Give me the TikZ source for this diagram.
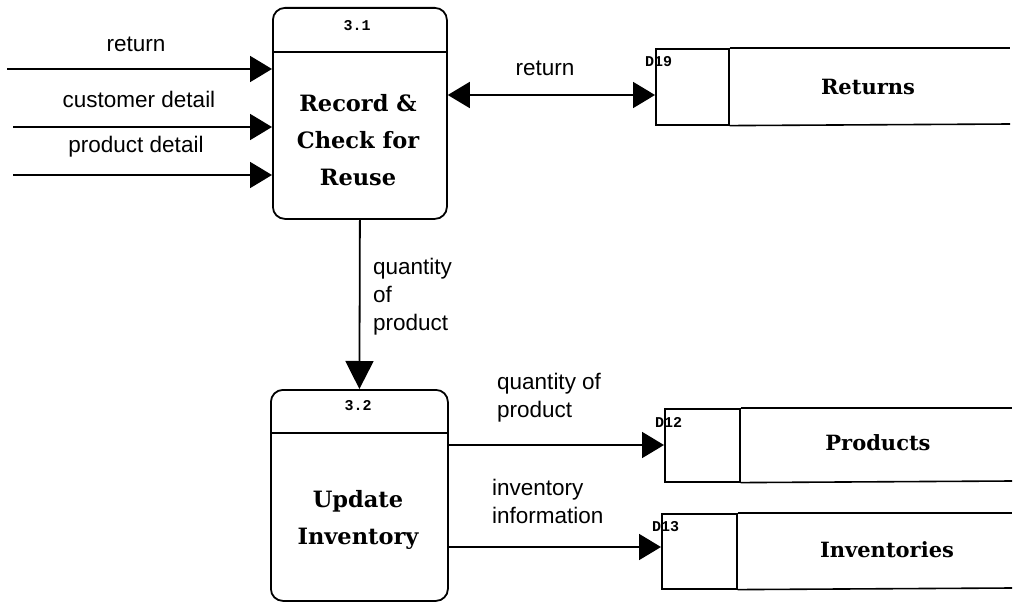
\documentclass[tikz,border=0pt]{standalone}
\usepackage{fontspec}
\usetikzlibrary{arrows.meta}
\newfontfamily\lblfont{Liberation Sans}
\newfontfamily\procfont{DejaVu Serif}
\newfontfamily\monofnt{Liberation Mono}
\tikzset{
  proc/.style={draw, line width=1.8pt, rounded corners=12pt, anchor=north west, inner sep=0pt},
  ptext/.style={align=center, font=\procfont\bfseries\fontsize{22.5}{37}\selectfont},
  pid/.style={font=\monofnt\bfseries\fontsize{15}{16}\selectfont},
  sid/.style={draw, line width=1.6pt, anchor=north west, inner sep=0pt},
  slabel/.style={font=\procfont\bfseries\fontsize{21}{26}\selectfont},
  lbl/.style={font=\lblfont\fontsize{22.5}{28}\selectfont, align=left, inner sep=0pt},
  flow/.style={line width=1.8pt, -{Triangle[length=22pt,width=26pt]}},
  flowboth/.style={line width=1.8pt, {Triangle[length=22pt,width=26pt]}-{Triangle[length=22pt,width=26pt]}},
  storeline/.style={line width=1.6pt}
}
\begin{document}
\begin{tikzpicture}[x=1pt,y=-1pt]
\useasboundingbox (0,0) rectangle (1023,602);
\fill[white] (0,0) rectangle (1023,602);

% process 3.1
\node[proc, minimum width=174pt, minimum height=211pt] (p1) at (272,7) {};
\draw[line width=1.6pt] ([yshift=-45pt]p1.north west) -- ([yshift=-45pt]p1.north east);
\node[pid] (p1id) at (357,26) {3.1};
\node[ptext] (p1t) at (358,140) {Record \&\\Check for\\Reuse};

% process 3.2
\node[proc, minimum width=177pt, minimum height=211pt] (p2) at (270,389) {};
\draw[line width=1.6pt] ([yshift=-44pt]p2.north west) -- ([yshift=-44pt]p2.north east);
\node[pid] (p2id) at (358,406) {3.2};
\node[ptext] (p2t) at (358,520) {Update\\Inventory};

% store D19 Returns
\node[sid, minimum width=73pt, minimum height=76pt] (s1) at (655,48) {};
\coordinate (s1te) at (1010,48);
\coordinate (s1be) at (1010,124);
\draw[storeline] (s1.north east) -- (s1te);
\draw[storeline] (s1.south east) -- (s1be);
\node[pid, anchor=west, inner sep=0pt] (s1id) at (645,62) {D19};
\node[slabel] (s1l) at (868,87) {Returns};

% store D12 Products
\node[sid, minimum width=75pt, minimum height=73pt] (s2) at (664,408) {};
\coordinate (s2te) at (1012,408);
\coordinate (s2be) at (1012,481);
\draw[storeline] (s2.north east) -- (s2te);
\draw[storeline] (s2.south east) -- (s2be);
\node[pid, anchor=west, inner sep=0pt] (s2id) at (655,422) {D12};
\node[slabel] (s2l) at (878,443) {Products};

% store D13 Inventories
\node[sid, minimum width=75pt, minimum height=75pt] (s3) at (661,513) {};
\coordinate (s3te) at (1012,513);
\coordinate (s3be) at (1012,588);
\draw[storeline] (s3.north east) -- (s3te);
\draw[storeline] (s3.south east) -- (s3be);
\node[pid, anchor=west, inner sep=0pt] (s3id) at (652,527) {D13};
\node[slabel] (s3l) at (887,550) {Inventories};

% inputs to 3.1
\coordinate (in1) at (7,69);
\coordinate (in2) at (13,127);
\coordinate (in3) at (13,175);
\draw[flow] (in1) -- (in1 -| p1.west);
\draw[flow] (in2) -- (in2 -| p1.west);
\draw[flow] (in3) -- (in3 -| p1.west);
\node[lbl, anchor=center] (l1) at (136,44) {return};
\node[lbl, anchor=center] (l2) at (139,99) {customer detail};
\node[lbl, anchor=center] (l3) at (136,147) {product detail};

% return between 3.1 and D19
\coordinate (ry) at (500,95);
\draw[flowboth] (ry -| p1.east) -- (ry -| s1.west);
\node[lbl, anchor=center] (l4) at (545,68) {return};

% quantity of product from 3.1 to 3.2
\draw[line width=1.8pt, -{Triangle[length=28pt,width=28pt]}] (p1.south) -- (p2.north);
\node[lbl, anchor=north west] (l5) at (373,258) {quantity\\of\\product};

% 3.2 to D12
\coordinate (qy) at (550,445);
\draw[flow] (qy -| p2.east) -- (qy -| s2.west);
\node[lbl, anchor=north west] (l6) at (497,373) {quantity of\\product};

% 3.2 to D13
\coordinate (iy) at (550,547);
\draw[flow] (iy -| p2.east) -- (iy -| s3.west);
\node[lbl, anchor=north west] (l7) at (492,479) {inventory\\information};
\end{tikzpicture}
\end{document}
